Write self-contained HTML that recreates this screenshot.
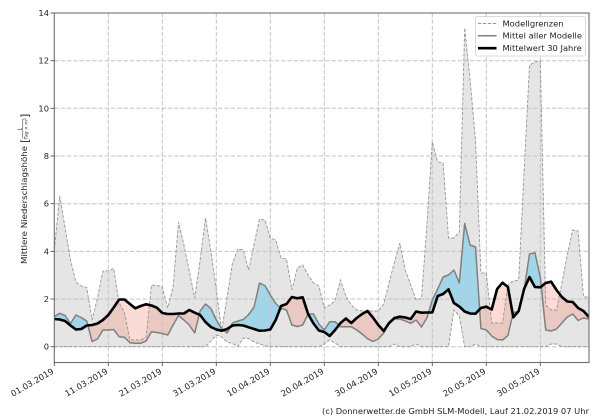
<!DOCTYPE html>
<html><head><meta charset="utf-8"><style>
html,body{margin:0;padding:0;background:#fff;}
svg{display:block;font-family:"DejaVu Sans","Liberation Sans",sans-serif;}
</style></head><body>
<svg width="600" height="420" viewBox="0 0 600 420" xmlns="http://www.w3.org/2000/svg">
<defs>
<clipPath id="plot"><rect x="54.3" y="13" width="534.7" height="349.5"/></clipPath>
<clipPath id="aboveB"><polygon points="54.3,319 59.7,319.5 65.1,321 70.5,325.5 75.9,329.5 81.3,329 86.7,325.5 92.1,325 97.5,323.5 102.9,320 108.3,315 113.7,307.5 119.1,299.5 124.5,299.5 129.9,304 135.3,308.3 140.7,306 146.1,304.3 151.5,305.5 156.9,307.7 162.3,313 167.7,314 173.1,314 178.5,313.5 183.9,313.5 189.3,310 194.7,312.7 200.1,315 205.5,322 210.9,327 216.3,329.5 221.7,330.7 227.1,329 232.5,325.5 237.9,325 243.3,325.5 248.7,327.3 254.1,329 259.5,330.7 264.9,330.5 270.3,329.5 275.7,320 281.1,306 286.5,304 291.9,297 297.3,298.3 302.7,297.3 308.1,314 313.5,323.5 318.9,330.5 324.3,332 329.7,336 335.1,330 340.5,323 345.9,318.5 351.3,323 356.7,318 362.1,314 367.5,311 372.9,317.5 378.3,325 383.7,331 389.1,323 394.5,318 399.9,316.7 405.3,317.5 410.7,319 416.1,311.5 421.5,312.7 426.9,312.5 432.3,312.5 437.7,296 443.1,294 448.5,289.3 453.9,303 459.3,306.5 464.7,311.5 470.1,313.5 475.5,313.7 480.9,308 486.3,306.7 491.7,309.5 497.1,289 502.5,282.7 507.9,287 513.3,317.3 518.7,311 524.1,289 529.5,277 534.9,287 540.3,287.3 545.7,283 551.1,281.7 556.5,290 561.9,297 567.3,301.5 572.7,302 578.1,308 583.5,311 588.9,317 588.9,0 54.3,0"/></clipPath>
<clipPath id="aboveM"><polygon points="54.3,316.5 59.7,313.3 65.1,315.5 70.5,323.5 75.9,315 81.3,317.5 86.7,321 92.1,341.5 97.5,339 102.9,330 108.3,330 113.7,329.5 119.1,336.7 124.5,337.3 129.9,342.7 135.3,343.3 140.7,343.3 146.1,341 151.5,331.7 156.9,332.5 162.3,333.5 167.7,335 173.1,325 178.5,315.5 183.9,320 189.3,325 194.7,333 200.1,311 205.5,304 210.9,308.5 216.3,320 221.7,328.5 227.1,333 232.5,323 237.9,321 243.3,319.5 248.7,314.5 254.1,307 259.5,283 264.9,285.5 270.3,295 275.7,303.5 281.1,308.5 286.5,310 291.9,325 297.3,326.5 302.7,325 308.1,314 313.5,314 318.9,324 324.3,330 329.7,321.7 335.1,321.7 340.5,326.7 345.9,326.7 351.3,326.7 356.7,330 362.1,334 367.5,338.7 372.9,341.5 378.3,339 383.7,333 389.1,322.5 394.5,319 399.9,319 405.3,321 410.7,323.3 416.1,320 421.5,327 426.9,318 432.3,300 437.7,289 443.1,277 448.5,275 453.9,270 459.3,283 464.7,223.5 470.1,245 475.5,247 480.9,328.5 486.3,330 491.7,336 497.1,339.5 502.5,340 507.9,335.5 513.3,312.5 518.7,311.5 524.1,290 529.5,254 534.9,252.7 540.3,277 545.7,330 551.1,331 556.5,329 561.9,323 567.3,317 572.7,314 578.1,320.5 583.5,318 588.9,319 588.9,0 54.3,0"/></clipPath>
</defs>

<g clip-path="url(#plot)">
<!-- grey model band -->
<polygon fill="#e5e5e5" stroke="none" points="54.3,250 59.7,196 65.1,228 70.5,260 75.9,282 81.3,286 86.7,287.5 92.1,320 97.5,298 102.9,271 108.3,270.7 113.7,268.5 119.1,303 124.5,312 129.9,340 135.3,340 140.7,340 146.1,337 151.5,285 156.9,285.5 162.3,287 167.7,308 173.1,287 178.5,222 183.9,245 189.3,271 194.7,298 200.1,260 205.5,218 210.9,251 216.3,290 221.7,330 227.1,297 232.5,263 237.9,249 243.3,250 248.7,270 254.1,244 259.5,219 264.9,220 270.3,238 275.7,240 281.1,258 286.5,259 291.9,290 297.3,268 302.7,265 308.1,275 313.5,283 318.9,286 324.3,308 329.7,305 335.1,301 340.5,280 345.9,296 351.3,305 356.7,310 362.1,311 367.5,311 372.9,311 378.3,311 383.7,304 389.1,283 394.5,262 399.9,243 405.3,270 410.7,285 416.1,300 421.5,298 426.9,225 432.3,142 437.7,162 443.1,163 448.5,238 453.9,238 459.3,232 464.7,28 470.1,80 475.5,140 480.9,273 486.3,273 491.7,323 497.1,323 502.5,323 507.9,285 513.3,281 518.7,280 524.1,172 529.5,65 534.9,62 540.3,61 545.7,305 551.1,310 556.5,310 561.9,283 567.3,255 572.7,230 578.1,231 583.5,297 588.9,297 588.9,346.7 561.9,346.7 556.5,344 551.1,344 545.7,346.7 480.9,346.7 475.5,344 470.1,346.7 464.7,346.7 459.3,316 453.9,310 448.5,346.7 421.5,346.7 416.1,344 410.7,346.7 399.9,346.7 394.5,344 389.1,346.7 340.5,346.7 335.1,343 329.7,340 324.3,344 318.9,346.7 270.3,346.7 264.9,345.5 259.5,344 254.1,342 248.7,338.5 243.3,338 237.9,346.5 232.5,343.5 227.1,342 221.7,337 216.3,335 210.9,341 205.5,346.7 54.3,346.7"/>

<!-- blue: model mean above 30y mean -->
<g clip-path="url(#aboveB)">
<polygon fill="rgb(135,206,235)" fill-opacity="0.7" points="54.3,316.5 59.7,313.3 65.1,315.5 70.5,323.5 75.9,315 81.3,317.5 86.7,321 92.1,341.5 97.5,339 102.9,330 108.3,330 113.7,329.5 119.1,336.7 124.5,337.3 129.9,342.7 135.3,343.3 140.7,343.3 146.1,341 151.5,331.7 156.9,332.5 162.3,333.5 167.7,335 173.1,325 178.5,315.5 183.9,320 189.3,325 194.7,333 200.1,311 205.5,304 210.9,308.5 216.3,320 221.7,328.5 227.1,333 232.5,323 237.9,321 243.3,319.5 248.7,314.5 254.1,307 259.5,283 264.9,285.5 270.3,295 275.7,303.5 281.1,308.5 286.5,310 291.9,325 297.3,326.5 302.7,325 308.1,314 313.5,314 318.9,324 324.3,330 329.7,321.7 335.1,321.7 340.5,326.7 345.9,326.7 351.3,326.7 356.7,330 362.1,334 367.5,338.7 372.9,341.5 378.3,339 383.7,333 389.1,322.5 394.5,319 399.9,319 405.3,321 410.7,323.3 416.1,320 421.5,327 426.9,318 432.3,300 437.7,289 443.1,277 448.5,275 453.9,270 459.3,283 464.7,223.5 470.1,245 475.5,247 480.9,328.5 486.3,330 491.7,336 497.1,339.5 502.5,340 507.9,335.5 513.3,312.5 518.7,311.5 524.1,290 529.5,254 534.9,252.7 540.3,277 545.7,330 551.1,331 556.5,329 561.9,323 567.3,317 572.7,314 578.1,320.5 583.5,318 588.9,319 588.9,420 54.3,420"/>
</g>
<!-- red: 30y mean above model mean -->
<g clip-path="url(#aboveM)">
<polygon fill="rgb(250,135,115)" fill-opacity="0.3" points="54.3,319 59.7,319.5 65.1,321 70.5,325.5 75.9,329.5 81.3,329 86.7,325.5 92.1,325 97.5,323.5 102.9,320 108.3,315 113.7,307.5 119.1,299.5 124.5,299.5 129.9,304 135.3,308.3 140.7,306 146.1,304.3 151.5,305.5 156.9,307.7 162.3,313 167.7,314 173.1,314 178.5,313.5 183.9,313.5 189.3,310 194.7,312.7 200.1,315 205.5,322 210.9,327 216.3,329.5 221.7,330.7 227.1,329 232.5,325.5 237.9,325 243.3,325.5 248.7,327.3 254.1,329 259.5,330.7 264.9,330.5 270.3,329.5 275.7,320 281.1,306 286.5,304 291.9,297 297.3,298.3 302.7,297.3 308.1,314 313.5,323.5 318.9,330.5 324.3,332 329.7,336 335.1,330 340.5,323 345.9,318.5 351.3,323 356.7,318 362.1,314 367.5,311 372.9,317.5 378.3,325 383.7,331 389.1,323 394.5,318 399.9,316.7 405.3,317.5 410.7,319 416.1,311.5 421.5,312.7 426.9,312.5 432.3,312.5 437.7,296 443.1,294 448.5,289.3 453.9,303 459.3,306.5 464.7,311.5 470.1,313.5 475.5,313.7 480.9,308 486.3,306.7 491.7,309.5 497.1,289 502.5,282.7 507.9,287 513.3,317.3 518.7,311 524.1,289 529.5,277 534.9,287 540.3,287.3 545.7,283 551.1,281.7 556.5,290 561.9,297 567.3,301.5 572.7,302 578.1,308 583.5,311 588.9,317 588.9,420 54.3,420"/>
</g>

<!-- grid -->
<g stroke="#c4c4c4" stroke-width="1" stroke-dasharray="4.4,1.9" fill="none">
<line x1="54.3" y1="346.7" x2="589" y2="346.7"/>
<line x1="54.3" y1="299" x2="589" y2="299"/>
<line x1="54.3" y1="251.4" x2="589" y2="251.4"/>
<line x1="54.3" y1="203.7" x2="589" y2="203.7"/>
<line x1="54.3" y1="156" x2="589" y2="156"/>
<line x1="54.3" y1="108.3" x2="589" y2="108.3"/>
<line x1="54.3" y1="60.7" x2="589" y2="60.7"/>
<line x1="108.3" y1="13" x2="108.3" y2="362.5"/>
<line x1="162.3" y1="13" x2="162.3" y2="362.5"/>
<line x1="216.3" y1="13" x2="216.3" y2="362.5"/>
<line x1="270.3" y1="13" x2="270.3" y2="362.5"/>
<line x1="324.3" y1="13" x2="324.3" y2="362.5"/>
<line x1="378.3" y1="13" x2="378.3" y2="362.5"/>
<line x1="432.3" y1="13" x2="432.3" y2="362.5"/>
<line x1="486.3" y1="13" x2="486.3" y2="362.5"/>
<line x1="540.3" y1="13" x2="540.3" y2="362.5"/>
</g>

<!-- model bounds (dashed) -->
<g stroke="#969696" stroke-width="0.9" stroke-dasharray="3.3,1.6" fill="none">
<polyline points="54.3,250 59.7,196 65.1,228 70.5,260 75.9,282 81.3,286 86.7,287.5 92.1,320 97.5,298 102.9,271 108.3,270.7 113.7,268.5 119.1,303 124.5,312 129.9,340 135.3,340 140.7,340 146.1,337 151.5,285 156.9,285.5 162.3,287 167.7,308 173.1,287 178.5,222 183.9,245 189.3,271 194.7,298 200.1,260 205.5,218 210.9,251 216.3,290 221.7,330 227.1,297 232.5,263 237.9,249 243.3,250 248.7,270 254.1,244 259.5,219 264.9,220 270.3,238 275.7,240 281.1,258 286.5,259 291.9,290 297.3,268 302.7,265 308.1,275 313.5,283 318.9,286 324.3,308 329.7,305 335.1,301 340.5,280 345.9,296 351.3,305 356.7,310 362.1,311 367.5,311 372.9,311 378.3,311 383.7,304 389.1,283 394.5,262 399.9,243 405.3,270 410.7,285 416.1,300 421.5,298 426.9,225 432.3,142 437.7,162 443.1,163 448.5,238 453.9,238 459.3,232 464.7,28 470.1,80 475.5,140 480.9,273 486.3,273 491.7,323 497.1,323 502.5,323 507.9,285 513.3,281 518.7,280 524.1,172 529.5,65 534.9,62 540.3,61 545.7,305 551.1,310 556.5,310 561.9,283 567.3,255 572.7,230 578.1,231 583.5,297 588.9,297"/>
<polyline points="54.3,346.7 205.5,346.7 210.9,341 216.3,335 221.7,337 227.1,342 232.5,343.5 237.9,346.5 243.3,338 248.7,338.5 254.1,342 259.5,344 264.9,345.5 270.3,346.7 318.9,346.7 324.3,344 329.7,340 335.1,343 340.5,346.7 389.1,346.7 394.5,344 399.9,346.7 410.7,346.7 416.1,344 421.5,346.7 448.5,346.7 453.9,310 459.3,316 464.7,346.7 470.1,346.7 475.5,344 480.9,346.7 545.7,346.7 551.1,344 556.5,344 561.9,346.7 588.9,346.7"/>
</g>

<!-- model mean -->
<polyline fill="none" stroke="#808080" stroke-width="1.5" stroke-linejoin="round" points="54.3,316.5 59.7,313.3 65.1,315.5 70.5,323.5 75.9,315 81.3,317.5 86.7,321 92.1,341.5 97.5,339 102.9,330 108.3,330 113.7,329.5 119.1,336.7 124.5,337.3 129.9,342.7 135.3,343.3 140.7,343.3 146.1,341 151.5,331.7 156.9,332.5 162.3,333.5 167.7,335 173.1,325 178.5,315.5 183.9,320 189.3,325 194.7,333 200.1,311 205.5,304 210.9,308.5 216.3,320 221.7,328.5 227.1,333 232.5,323 237.9,321 243.3,319.5 248.7,314.5 254.1,307 259.5,283 264.9,285.5 270.3,295 275.7,303.5 281.1,308.5 286.5,310 291.9,325 297.3,326.5 302.7,325 308.1,314 313.5,314 318.9,324 324.3,330 329.7,321.7 335.1,321.7 340.5,326.7 345.9,326.7 351.3,326.7 356.7,330 362.1,334 367.5,338.7 372.9,341.5 378.3,339 383.7,333 389.1,322.5 394.5,319 399.9,319 405.3,321 410.7,323.3 416.1,320 421.5,327 426.9,318 432.3,300 437.7,289 443.1,277 448.5,275 453.9,270 459.3,283 464.7,223.5 470.1,245 475.5,247 480.9,328.5 486.3,330 491.7,336 497.1,339.5 502.5,340 507.9,335.5 513.3,312.5 518.7,311.5 524.1,290 529.5,254 534.9,252.7 540.3,277 545.7,330 551.1,331 556.5,329 561.9,323 567.3,317 572.7,314 578.1,320.5 583.5,318 588.9,319"/>

<!-- 30 year mean -->
<polyline fill="none" stroke="#000" stroke-width="2.6" stroke-linejoin="round" points="54.3,319 59.7,319.5 65.1,321 70.5,325.5 75.9,329.5 81.3,329 86.7,325.5 92.1,325 97.5,323.5 102.9,320 108.3,315 113.7,307.5 119.1,299.5 124.5,299.5 129.9,304 135.3,308.3 140.7,306 146.1,304.3 151.5,305.5 156.9,307.7 162.3,313 167.7,314 173.1,314 178.5,313.5 183.9,313.5 189.3,310 194.7,312.7 200.1,315 205.5,322 210.9,327 216.3,329.5 221.7,330.7 227.1,329 232.5,325.5 237.9,325 243.3,325.5 248.7,327.3 254.1,329 259.5,330.7 264.9,330.5 270.3,329.5 275.7,320 281.1,306 286.5,304 291.9,297 297.3,298.3 302.7,297.3 308.1,314 313.5,323.5 318.9,330.5 324.3,332 329.7,336 335.1,330 340.5,323 345.9,318.5 351.3,323 356.7,318 362.1,314 367.5,311 372.9,317.5 378.3,325 383.7,331 389.1,323 394.5,318 399.9,316.7 405.3,317.5 410.7,319 416.1,311.5 421.5,312.7 426.9,312.5 432.3,312.5 437.7,296 443.1,294 448.5,289.3 453.9,303 459.3,306.5 464.7,311.5 470.1,313.5 475.5,313.7 480.9,308 486.3,306.7 491.7,309.5 497.1,289 502.5,282.7 507.9,287 513.3,317.3 518.7,311 524.1,289 529.5,277 534.9,287 540.3,287.3 545.7,283 551.1,281.7 556.5,290 561.9,297 567.3,301.5 572.7,302 578.1,308 583.5,311 588.9,317"/>
</g>

<!-- axes frame -->
<rect x="54.3" y="13" width="534.7" height="349.5" fill="none" stroke="#6e6e6e" stroke-width="1.1"/>

<!-- y ticks -->
<g stroke="#555" stroke-width="0.9">
<line x1="50.5" y1="346.7" x2="54.3" y2="346.7"/>
<line x1="50.5" y1="299" x2="54.3" y2="299"/>
<line x1="50.5" y1="251.4" x2="54.3" y2="251.4"/>
<line x1="50.5" y1="203.7" x2="54.3" y2="203.7"/>
<line x1="50.5" y1="156" x2="54.3" y2="156"/>
<line x1="50.5" y1="108.3" x2="54.3" y2="108.3"/>
<line x1="50.5" y1="60.7" x2="54.3" y2="60.7"/>
<line x1="50.5" y1="13" x2="54.3" y2="13"/>
</g>
<g font-size="8.33" fill="#222" text-anchor="end">
<text x="49" y="349.7">0</text>
<text x="49" y="302">2</text>
<text x="49" y="254.4">4</text>
<text x="49" y="206.7">6</text>
<text x="49" y="159">8</text>
<text x="49" y="111.3">10</text>
<text x="49" y="63.7">12</text>
<text x="49" y="16">14</text>
</g>

<!-- x ticks -->
<g stroke="#555" stroke-width="0.9">
<line x1="54.3" y1="362.5" x2="54.3" y2="366"/>
<line x1="108.3" y1="362.5" x2="108.3" y2="366"/>
<line x1="162.3" y1="362.5" x2="162.3" y2="366"/>
<line x1="216.3" y1="362.5" x2="216.3" y2="366"/>
<line x1="270.3" y1="362.5" x2="270.3" y2="366"/>
<line x1="324.3" y1="362.5" x2="324.3" y2="366"/>
<line x1="378.3" y1="362.5" x2="378.3" y2="366"/>
<line x1="432.3" y1="362.5" x2="432.3" y2="366"/>
<line x1="486.3" y1="362.5" x2="486.3" y2="366"/>
<line x1="540.3" y1="362.5" x2="540.3" y2="366"/>
</g>
<g font-size="8.33" fill="#222" text-anchor="end">
<text transform="translate(54.3,373) rotate(-30)">01.03.2019</text>
<text transform="translate(108.3,373) rotate(-30)">11.03.2019</text>
<text transform="translate(162.3,373) rotate(-30)">21.03.2019</text>
<text transform="translate(216.3,373) rotate(-30)">31.03.2019</text>
<text transform="translate(270.3,373) rotate(-30)">10.04.2019</text>
<text transform="translate(324.3,373) rotate(-30)">20.04.2019</text>
<text transform="translate(378.3,373) rotate(-30)">30.04.2019</text>
<text transform="translate(432.3,373) rotate(-30)">10.05.2019</text>
<text transform="translate(486.3,373) rotate(-30)">20.05.2019</text>
<text transform="translate(540.3,373) rotate(-30)">30.05.2019</text>
</g>

<!-- y axis label -->
<g transform="translate(27,264) rotate(-90)" fill="#222">
<text x="0" y="0" font-size="8.33" textLength="118" lengthAdjust="spacingAndGlyphs">Mittlere Niederschlagshöhe</text>
<text x="121" y="1.3" font-size="11">[</text>
<line x1="125.5" y1="-4.2" x2="145" y2="-4.2" stroke="#222" stroke-width="0.5"/>
<text x="135.2" y="-5.3" font-size="5" font-style="italic" text-anchor="middle">L</text>
<text x="135.2" y="0.4" font-size="4.6" text-anchor="middle"><tspan font-style="italic">Tag</tspan> × <tspan font-style="italic">m</tspan><tspan font-size="3.2" dy="-1.6">2</tspan></text>
<text x="146" y="1.3" font-size="11">]</text>
</g>

<!-- legend -->
<rect x="475.5" y="16.5" width="110" height="39.5" rx="2" ry="2" fill="#fff" fill-opacity="0.85" stroke="#cfcfcf" stroke-width="0.8"/>
<line x1="478" y1="23.5" x2="496.5" y2="23.5" stroke="#969696" stroke-width="0.9" stroke-dasharray="3.3,1.6"/>
<line x1="478" y1="35.7" x2="496.5" y2="35.7" stroke="#808080" stroke-width="1.5"/>
<line x1="478" y1="48.2" x2="496.5" y2="48.2" stroke="#000" stroke-width="2.6"/>
<g font-size="8.33" fill="#222">
<text x="502.5" y="26.5">Modellgrenzen</text>
<text x="502.5" y="38.7">Mittel aller Modelle</text>
<text x="502.5" y="51.2">Mittelwert 30 Jahre</text>
</g>

<!-- copyright -->
<text x="589" y="414" font-size="8.33" fill="#222" text-anchor="end" textLength="267" lengthAdjust="spacingAndGlyphs">(c) Donnerwetter.de GmbH SLM-Modell, Lauf 21.02.2019 07 Uhr</text>
</svg>
</body></html>
